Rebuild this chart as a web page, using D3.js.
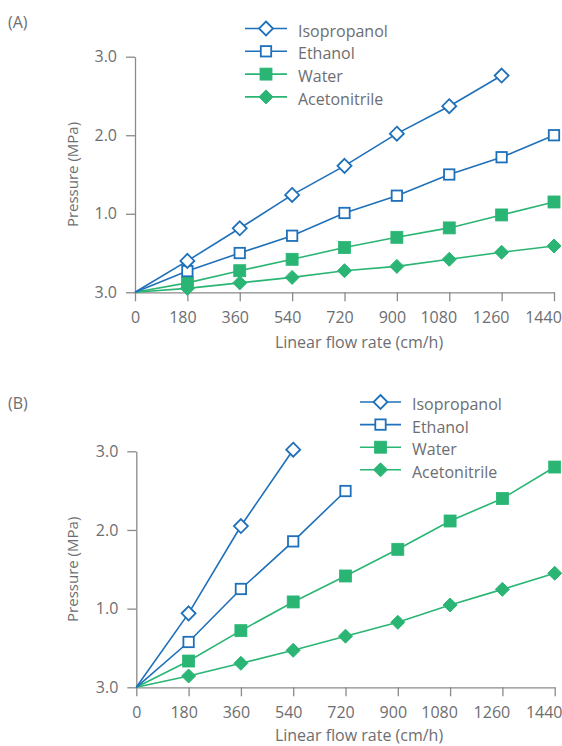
<!DOCTYPE html>
<html>
<head>
<meta charset="utf-8">
<script src="https://cdn.jsdelivr.net/npm/d3@7"></script>
<style>
  html, body { margin: 0; padding: 0; background: #fff; }
  svg { display: block; font-family: "Open Sans", "Noto Sans", sans-serif; }
</style>
</head>
<body>
<svg id="chart" width="562" height="746"></svg>
<script>
// Flow rates (cm/h) and pressure readings (MPa) for each solvent
const flowTicks = [0, 180, 360, 540, 720, 900, 1080, 1260, 1440];
const pressureTicks = [0, 1, 2, 3];
const pressureTickLabels = ["3.0", "1.0", "2.0", "3.0"];
const solvents = ["Isopropanol", "Ethanol", "Water", "Acetonitrile"];

// Panel A
const flowA_isopropanol = [0, 180, 360, 540, 720, 900, 1080, 1260];
const presA_isopropanol = [0, 0.40, 0.815, 1.24, 1.61, 2.02, 2.37, 2.76];
const flowA_ethanol = [0, 180, 360, 540, 720, 900, 1080, 1260, 1440];
const presA_ethanol = [0, 0.27, 0.50, 0.72, 1.01, 1.23, 1.50, 1.72, 2.00];
const flowA_water = [0, 180, 360, 540, 720, 900, 1080, 1260, 1440];
const presA_water = [0, 0.12, 0.275, 0.42, 0.57, 0.70, 0.82, 0.985, 1.15];
const flowA_acetonitrile = [0, 180, 360, 540, 720, 900, 1080, 1260, 1440];
const presA_acetonitrile = [0, 0.05, 0.12, 0.19, 0.275, 0.33, 0.42, 0.51, 0.59];

// Panel B
const flowB_isopropanol = [0, 180, 360, 540];
const presB_isopropanol = [0, 0.94, 2.05, 3.02];
const flowB_ethanol = [0, 180, 360, 540, 720];
const presB_ethanol = [0, 0.576, 1.25, 1.855, 2.495];
const flowB_water = [0, 180, 360, 540, 720, 900, 1080, 1260, 1440];
const presB_water = [0, 0.334, 0.72, 1.085, 1.415, 1.754, 2.114, 2.40, 2.80];
const flowB_acetonitrile = [0, 180, 360, 540, 720, 900, 1080, 1260, 1440];
const presB_acetonitrile = [0, 0.144, 0.305, 0.47, 0.65, 0.826, 1.046, 1.245, 1.45];

const BLUE = "#1f70ba";
const GREEN = "#2ab574";
const TEXT = "#6d6e71";
const AXIS = "#8a8a8a";
const FONT = "'Open Sans', 'Noto Sans', sans-serif";

const styles = {
  "Isopropanol":  { color: BLUE,  shape: "diamond", filled: false },
  "Ethanol":      { color: BLUE,  shape: "square",  filled: false },
  "Water":        { color: GREEN, shape: "square",  filled: true },
  "Acetonitrile": { color: GREEN, shape: "diamond", filled: true }
};

function zipSeries(xs, ys) { return xs.map((x, i) => ({ x, y: ys[i] })); }

const panels = [
  {
    label: "(A)", labelY: 22, titleGap: 50,
    x0: 135, x1: 554, y0: 292.3, y1: 56.7,
    legend: { lineX0: 245, lineX1: 287, textX: 298, y0: 28.5, dy: 22.8 },
    series: {
      "Isopropanol": zipSeries(flowA_isopropanol, presA_isopropanol),
      "Ethanol": zipSeries(flowA_ethanol, presA_ethanol),
      "Water": zipSeries(flowA_water, presA_water),
      "Acetonitrile": zipSeries(flowA_acetonitrile, presA_acetonitrile)
    }
  },
  {
    label: "(B)", labelY: 403, titleGap: 47.5,
    x0: 136.3, x1: 554.7, y0: 687.3, y1: 451.3,
    legend: { lineX0: 360, lineX1: 401, textX: 412, y0: 402, dy: 22.6 },
    series: {
      "Isopropanol": zipSeries(flowB_isopropanol, presB_isopropanol),
      "Ethanol": zipSeries(flowB_ethanol, presB_ethanol),
      "Water": zipSeries(flowB_water, presB_water),
      "Acetonitrile": zipSeries(flowB_acetonitrile, presB_acetonitrile)
    }
  }
];

const svg = d3.select("#chart");

function drawMarker(g, name, cx, cy) {
  const s = styles[name];
  if (s.shape === "diamond") {
    const r = 7;
    g.append("path")
      .attr("d", `M${cx},${cy - r}L${cx + r},${cy}L${cx},${cy + r}L${cx - r},${cy}Z`)
      .attr("fill", s.filled ? s.color : "#fff")
      .attr("stroke", s.color)
      .attr("stroke-width", s.filled ? 1 : 1.8)
      .attr("stroke-linejoin", "miter");
  } else {
    const h = s.filled ? 6 : 5.2;
    g.append("rect")
      .attr("x", cx - h).attr("y", cy - h)
      .attr("width", 2 * h).attr("height", 2 * h)
      .attr("fill", s.filled ? s.color : "#fff")
      .attr("stroke", s.color)
      .attr("stroke-width", s.filled ? 0.8 : 1.8);
  }
}

panels.forEach(p => {
  const x = d3.scaleLinear().domain([0, 1440]).range([p.x0, p.x1]);
  const y = d3.scaleLinear().domain([0, 3]).range([p.y0, p.y1]);
  const g = svg.append("g");

  // panel label
  g.append("text").attr("x", 8).attr("y", p.labelY)
    .attr("dominant-baseline", "central")
    .attr("font-size", 16).attr("fill", TEXT).text(p.label);

  // x axis
  const xAxis = g.append("g")
    .attr("transform", `translate(0,${p.y0})`)
    .call(d3.axisBottom(x).tickValues(flowTicks).tickFormat(d3.format("d"))
      .tickSize(9).tickPadding(10).tickSizeOuter(0));
  xAxis.select(".domain").attr("stroke", AXIS).attr("stroke-width", 1.3);
  xAxis.selectAll(".tick line").attr("stroke", AXIS).attr("stroke-width", 1.3);
  // labels sit slightly left of their ticks, wider numbers more so
  xAxis.selectAll(".tick text").attr("fill", TEXT).attr("font-size", 16)
    .attr("font-family", FONT)
    .attr("dx", d => d === 0 ? 0 : (String(d).length > 3 ? -11 : -5));

  // y axis
  const yAxis = g.append("g")
    .attr("transform", `translate(${p.x0},0)`)
    .call(d3.axisLeft(y).tickValues(pressureTicks)
      .tickFormat((d, i) => pressureTickLabels[i])
      .tickSize(9).tickPadding(9).tickSizeOuter(0));
  yAxis.select(".domain").attr("stroke", AXIS).attr("stroke-width", 1.3);
  yAxis.selectAll(".tick line").attr("stroke", AXIS).attr("stroke-width", 1.3);
  yAxis.selectAll(".tick text").attr("fill", TEXT).attr("font-size", 16)
    .attr("font-family", FONT);

  // axis titles
  g.append("text")
    .attr("transform", `translate(72,${(p.y0 + p.y1) / 2}) rotate(-90)`)
    .attr("text-anchor", "middle").attr("dominant-baseline", "central")
    .attr("font-size", 15).attr("fill", TEXT).text("Pressure (MPa)");
  g.append("text")
    .attr("x", 359).attr("y", p.y0 + p.titleGap)
    .attr("text-anchor", "middle").attr("dominant-baseline", "central")
    .attr("font-size", 16).attr("fill", TEXT).text("Linear flow rate (cm/h)");

  // series lines and markers
  const line = d3.line().x(d => x(d.x)).y(d => y(d.y));
  solvents.slice().reverse().forEach(name => {
    const data = p.series[name];
    g.append("path").datum(data)
      .attr("d", line).attr("fill", "none")
      .attr("stroke", styles[name].color).attr("stroke-width", 1.6);
  });
  solvents.slice().reverse().forEach(name => {
    p.series[name].filter(d => d.x > 0).forEach(d => drawMarker(g, name, x(d.x), y(d.y)));
  });

  // legend
  solvents.forEach((name, i) => {
    const ly = p.legend.y0 + i * p.legend.dy;
    g.append("line")
      .attr("x1", p.legend.lineX0).attr("x2", p.legend.lineX1)
      .attr("y1", ly).attr("y2", ly)
      .attr("stroke", styles[name].color).attr("stroke-width", 1.6);
    drawMarker(g, name, (p.legend.lineX0 + p.legend.lineX1) / 2, ly);
    g.append("text").attr("x", p.legend.textX).attr("y", ly + 2)
      .attr("dominant-baseline", "central")
      .attr("font-size", 16).attr("fill", TEXT).text(name);
  });
});
</script>
</body>
</html>
